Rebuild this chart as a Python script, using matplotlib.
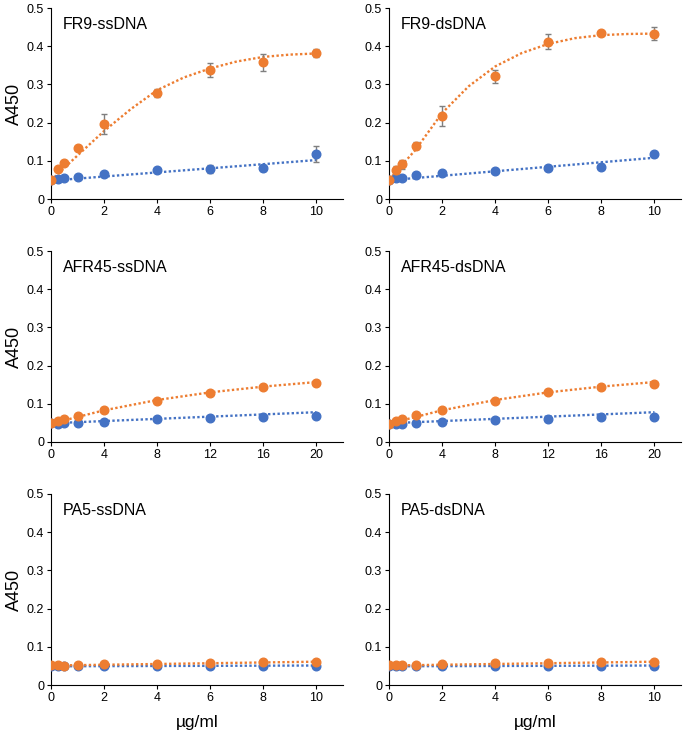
import matplotlib
matplotlib.use("Agg")
import matplotlib.pyplot as plt
from matplotlib.ticker import FixedLocator, FuncFormatter

plt.rcParams["font.family"] = ["Liberation Sans", "DejaVu Sans"]

ORANGE = "#ED7D31"
BLUE = "#4472C4"
ERR = "#7F7F7F"

# concentrations (ug/ml)
x_fr9 = [0, 0.25, 0.5, 1, 2, 4, 6, 8, 10]
x_afr = [0, 0.5, 1, 2, 4, 8, 12, 16, 20]
x_pa5 = [0, 0.25, 0.5, 1, 2, 4, 6, 8, 10]

# FR9-ssDNA
fr9ss_or = [0.050, 0.078, 0.094, 0.133, 0.197, 0.277, 0.338, 0.358, 0.382]
fr9ss_or_err = [0, 0, 0, 0, 0.026, 0.011, 0.018, 0.022, 0.010]
fr9ss_bl = [0.050, 0.052, 0.054, 0.058, 0.066, 0.075, 0.079, 0.082, 0.118]
fr9ss_bl_err = [0, 0, 0, 0, 0, 0, 0.011, 0.008, 0.020]

# FR9-dsDNA
fr9ds_or = [0.050, 0.076, 0.091, 0.140, 0.217, 0.321, 0.412, 0.435, 0.433]
fr9ds_or_err = [0, 0.010, 0.012, 0.010, 0.026, 0.017, 0.020, 0, 0.017]
fr9ds_bl = [0.050, 0.054, 0.055, 0.062, 0.067, 0.074, 0.081, 0.085, 0.117]
fr9ds_bl_err = [0, 0, 0, 0, 0, 0, 0, 0.006, 0.007]

# AFR45
afr45ss_or = [0.049, 0.055, 0.059, 0.069, 0.084, 0.108, 0.127, 0.143, 0.155]
afr45ss_bl = [0.049, 0.048, 0.050, 0.051, 0.053, 0.059, 0.063, 0.066, 0.068]
afr45ds_or = [0.048, 0.054, 0.060, 0.070, 0.084, 0.108, 0.130, 0.144, 0.153]
afr45ds_bl = [0.048, 0.048, 0.048, 0.051, 0.053, 0.058, 0.061, 0.066, 0.066]

# PA5
pa5ss_or = [0.052, 0.052, 0.051, 0.052, 0.054, 0.056, 0.058, 0.059, 0.059]
pa5ss_bl = [0.049, 0.049, 0.049, 0.049, 0.049, 0.049, 0.050, 0.050, 0.050]
pa5ds_or = [0.052, 0.052, 0.052, 0.053, 0.055, 0.057, 0.058, 0.059, 0.060]
pa5ds_bl = [0.049, 0.049, 0.049, 0.049, 0.049, 0.049, 0.050, 0.050, 0.051]

# trendlines
tx_10 = [0, 1, 2, 3, 4, 5, 6, 7, 8, 9, 10]
tr_fr9ss_or = [0.049, 0.114, 0.178, 0.235, 0.285, 0.318, 0.342, 0.360, 0.372, 0.378, 0.381]
tr_fr9ds_or = [0.050, 0.129, 0.225, 0.295, 0.347, 0.382, 0.406, 0.421, 0.429, 0.432, 0.433]
tr_fr9ss_bl = [0.048, 0.102]
tr_fr9ds_bl = [0.049, 0.108]
tx_afr = [0, 4, 8, 12, 16, 20]
tr_afrss_or = [0.048, 0.083, 0.110, 0.130, 0.145, 0.157]
tr_afrds_or = [0.048, 0.083, 0.110, 0.130, 0.145, 0.157]
tr_afr_bl = [0.049, 0.078]
tr_pa5_or = [0.051, 0.061]
tr_pa5_bl = [0.049, 0.051]

panels = [
    ("FR9-ssDNA", x_fr9, fr9ss_bl, fr9ss_bl_err, fr9ss_or, fr9ss_or_err,
     tr_fr9ss_bl, tx_10, tr_fr9ss_or, 10),
    ("FR9-dsDNA", x_fr9, fr9ds_bl, fr9ds_bl_err, fr9ds_or, fr9ds_or_err,
     tr_fr9ds_bl, tx_10, tr_fr9ds_or, 10),
    ("AFR45-ssDNA", x_afr, afr45ss_bl, None, afr45ss_or, None,
     tr_afr_bl, tx_afr, tr_afrss_or, 20),
    ("AFR45-dsDNA", x_afr, afr45ds_bl, None, afr45ds_or, None,
     tr_afr_bl, tx_afr, tr_afrds_or, 20),
    ("PA5-ssDNA", x_pa5, pa5ss_bl, None, pa5ss_or, None,
     tr_pa5_bl, [0, 10], tr_pa5_or, 10),
    ("PA5-dsDNA", x_pa5, pa5ds_bl, None, pa5ds_or, None,
     tr_pa5_bl, [0, 10], tr_pa5_or, 10),
]

W, H = 685, 731
fig = plt.figure(figsize=(6.85, 7.31), dpi=100)

col_x = [51, 389]
ax_w = 292
row_top = [8, 251, 494]
ax_h = 191

dot = (0, (1, 1))

for i, (title, x, bl, bl_err, org, or_err, tbl, tx, tor, xmax) in enumerate(panels):
    r, c = divmod(i, 2)
    ax = fig.add_axes([col_x[c] / W, 1 - (row_top[r] + ax_h) / H, ax_w / W, ax_h / H])

    ax.plot([0, xmax], tbl, linestyle=dot, color=BLUE, lw=1.7, zorder=2)
    ax.plot(tx, tor, linestyle=dot, color=ORANGE, lw=1.7, zorder=2)

    ax.errorbar(x, bl, yerr=bl_err, fmt="o", color=BLUE, ms=6.2, ecolor=ERR,
                elinewidth=1, capsize=2.5, capthick=1, zorder=3)
    ax.errorbar(x, org, yerr=or_err, fmt="o", color=ORANGE, ms=6.2, ecolor=ERR,
                elinewidth=1, capsize=2.5, capthick=1, zorder=4)

    ax.set_xlim(0, xmax * 1.1)
    ax.set_ylim(0, 0.5)
    step = 2 if xmax == 10 else 4
    ax.xaxis.set_major_locator(FixedLocator(list(range(0, xmax + 1, step))))
    ax.yaxis.set_major_locator(FixedLocator([0, 0.1, 0.2, 0.3, 0.4, 0.5]))
    ax.yaxis.set_major_formatter(FuncFormatter(lambda v, p: "0" if v == 0 else f"{v:.1f}"))
    for s in ["top", "right"]:
        ax.spines[s].set_visible(False)
    for s in ["left", "bottom"]:
        ax.spines[s].set_linewidth(0.8)
    ax.tick_params(direction="out", length=3, width=0.8, labelsize=9, pad=2)
    ax.set_facecolor("none")

    ax.text(0.04, 0.915, title, transform=ax.transAxes, fontsize=11.5,
            va="center", ha="left")

    if c == 0:
        ax.set_ylabel("A450", fontsize=13, labelpad=3)
    if r == 2:
        ax.set_xlabel("µg/ml", fontsize=12.5, labelpad=8)

fig.savefig("out.png", dpi=100)
